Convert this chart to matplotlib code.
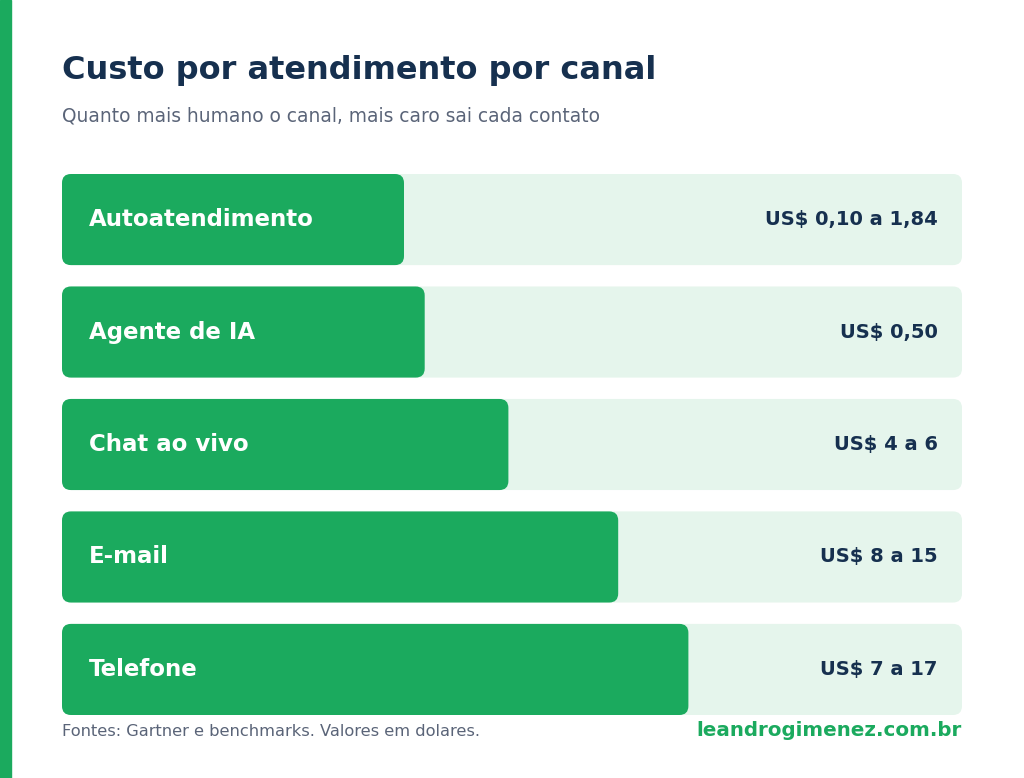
import matplotlib.pyplot as plt
from matplotlib.patches import FancyBboxPatch

# data
canais = ['Autoatendimento', 'Agente de IA', 'Chat ao vivo', 'E-mail', 'Telefone']
valores_txt = ['US$ 0,10 a 1,84', 'US$ 0,50', 'US$ 4 a 6', 'US$ 8 a 15', 'US$ 7 a 17']
barra = [38.0, 40.3, 49.6, 61.8, 69.6]  # comprimento da barra em % da trilha

VERDE = '#1BAA5E'
TRILHA = '#E5F5EC'
AZUL = '#16304F'
CINZA = '#5A6478'

plt.rcParams['font.family'] = ['DejaVu Sans']

W, H = 1024, 778
fig = plt.figure(figsize=(W / 100, H / 100), dpi=100)
fig.patch.set_facecolor('white')

# faixa verde na esquerda
fig.patches.append(plt.Rectangle((0, 0), 11 / W, 1, transform=fig.transFigure,
                                 color=VERDE, zorder=0))

fig.text(62 / W, 1 - 70 / H, 'Custo por atendimento por canal', fontsize=23,
         fontweight='bold', color=AZUL, va='center', ha='left')
fig.text(62 / W, 1 - 116 / H, 'Quanto mais humano o canal, mais caro sai cada contato',
         fontsize=13.4, color=CINZA, va='center', ha='left')

# area das barras: x 62..962 px, y 174..715 px
ax = fig.add_axes([62 / W, 1 - 715 / H, 900 / W, 541 / H])
ax.set_xlim(0, 100)
ax.set_ylim(4.405, -0.405)
ax.axis('off')

alt = 0.81
px_x = 900 / 100
px_y = 541 / 4.81
aspect = px_x / px_y
for i, (nome, val, comp) in enumerate(zip(canais, valores_txt, barra)):
    trilha = FancyBboxPatch((0, i - alt / 2), 100, alt,
                            boxstyle='round,pad=0,rounding_size=1.0',
                            mutation_aspect=aspect, fc=TRILHA, ec='none', zorder=1)
    ax.add_patch(trilha)
    b = FancyBboxPatch((0, i - alt / 2), comp, alt,
                       boxstyle='round,pad=0,rounding_size=1.0',
                       mutation_aspect=aspect, fc=VERDE, ec='none', zorder=2)
    ax.add_patch(b)
    ax.text(3.0, i, nome, color='white', fontsize=16.5, fontweight='bold',
            va='center', ha='left', zorder=3)
    ax.text(97.3, i, val, color=AZUL, fontsize=14, fontweight='bold',
            va='center', ha='right', zorder=3)

fig.text(62 / W, 1 - 731 / H, 'Fontes: Gartner e benchmarks. Valores em dolares.',
         fontsize=11.7, color=CINZA, va='center', ha='left')
fig.text(962 / W, 1 - 730 / H, 'leandrogimenez.com.br', fontsize=14.3,
         fontweight='bold', color=VERDE, va='center', ha='right')

fig.savefig('out.png', dpi=100, facecolor='white')
